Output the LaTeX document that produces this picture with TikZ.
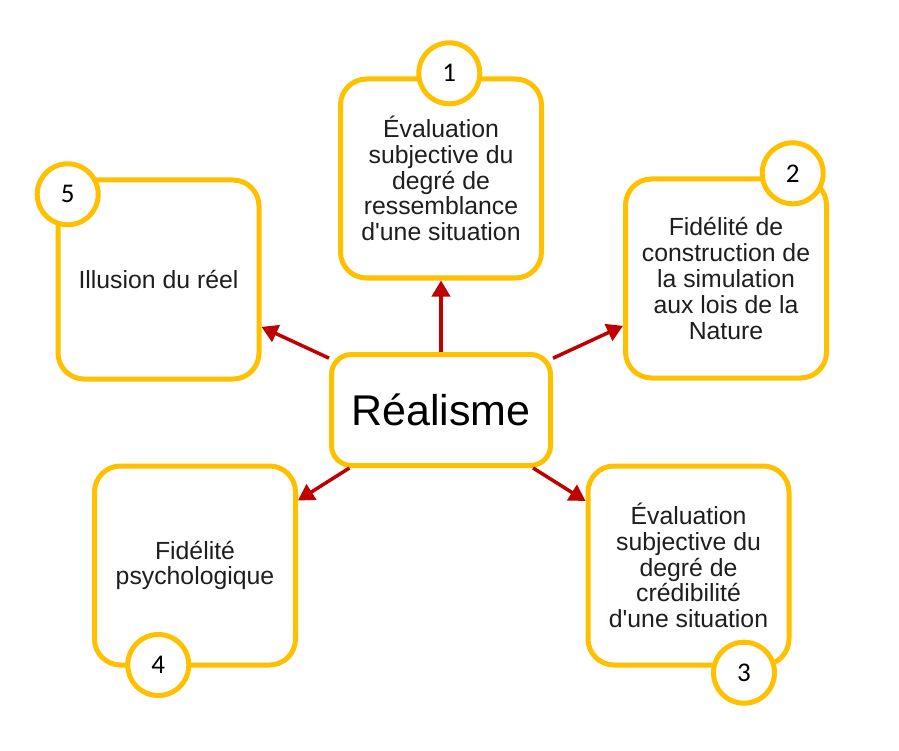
\documentclass[tikz,border=0pt]{standalone}
\usepackage{fontspec}
\setmainfont{Liberation Sans}
\newfontfamily\numfont{Carlito}
\usetikzlibrary{arrows.meta}
\definecolor{boxyellow}{RGB}{255,192,0}
\definecolor{arrowred}{RGB}{192,0,0}
\definecolor{textgrey}{RGB}{30,30,30}
\def\boxwidth{201pt}
\def\boxheight{199pt}
\def\ringsize{61pt}
\tikzset{ideanode/.style={draw=boxyellow, line width=5pt, rounded corners=26pt, fill=white, minimum width=\boxwidth, minimum height=\boxheight, align=center, text=textgrey, inner sep=0pt, font=\fontsize{24.8}{25.8}\selectfont}}
\tikzset{centrenode/.style={ideanode, minimum width=219pt, minimum height=111pt, rounded corners=20pt, text=black, font=\fontsize{43}{45}\selectfont}}
\tikzset{numnode/.style={circle, draw=boxyellow, line width=5pt, fill=white, minimum size=\ringsize, inner sep=0pt, font=\numfont\fontsize{27}{28}\selectfont}}
\tikzset{linkarrow/.style={draw=arrowred, line width=3.5pt, -{Triangle[length=16pt,width=18pt]}}}

\begin{document}
\begin{tikzpicture}[x=1pt, y=-1pt]
\useasboundingbox (0,0) rectangle (899,751);
\node (real) [centrenode] at (441, 410) {Réalisme};
\node (b1) [ideanode] at (441, 178.5) {Évaluation\\subjective du\\degré de\\ressemblance\\d\textquotesingle une situation};
\node (b2) [ideanode] at (726, 278.5) {Fidélité de\\construction de\\la simulation\\aux lois de la\\Nature};
\node (b3) [ideanode] at (688.5, 565.5) {Évaluation\\subjective du\\degré de\\crédibilité\\d\textquotesingle une situation};
\node (b4) [ideanode] at (195, 565.5) {Fidélité\\psychologique};
\node (b5) [ideanode] at (158.5, 279.5) {Illusion du réel};

\node (n1) [numnode] at (449.3, 73.3) {1};
\node (n2) [numnode] at (792.7, 173.3) {2};
\node (n3) [numnode] at (744, 672.7) {3};
\node (n4) [numnode] at (158.3, 665) {4};
\node (n5) [numnode] at (67.7, 194.3) {5};

\draw[linkarrow] (real) -- (b1);
\draw[linkarrow] (real) -- (b2);
\draw[linkarrow] (real) -- (b3);
\draw[linkarrow] (real) -- (b4);
\draw[linkarrow] (real) -- (b5);
\end{tikzpicture}
\end{document}
